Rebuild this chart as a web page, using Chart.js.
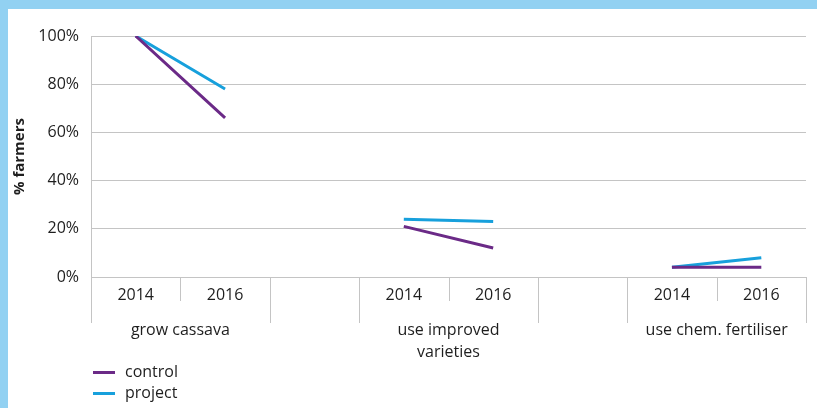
<!DOCTYPE html>
<html lang="en">
<head>
  <meta charset="UTF-8" />
  <title>Farmer practices 2014-2016</title>
  <script src="https://cdn.jsdelivr.net/npm/chart.js"></script>
  <style>
    body {
      margin: 0;
      background: #92d1f2;
      width: 817px;
      height: 408px;
      overflow: hidden;
    }
    #frame {
      position: absolute;
      left: 8px;
      top: 9px;
      width: 809px;
      height: 399px;
      background: #ffffff;
    }
  </style>
</head>
<body>
  <div id="frame">
    <canvas id="practiceChart" width="809" height="399"></canvas>
  </div>

  <script>
    // years per slot; empty slots keep the groups apart
    const years = ['2014', '2016', '', '2014', '2016', '', '2014', '2016'];
    const groups = [['grow cassava'], ['use improved', 'varieties'], ['use chem. fertiliser']];
    const yTicks = [0, 20, 40, 60, 80, 100];

    const control = [100, 66, null, 21, 12, null, 4, 4];
    const project = [100, 78, null, 24, 23, null, 4, 8];

    const purple = '#6b2a87';
    const blue = '#17a0dc';
    const gridColor = '#c4c4c4';
    const textColor = '#1e1e1e';
    const fontFamily = '"Open Sans", sans-serif';

    // separators, group names and legend below the x axis
    const groupPlugin = {
      id: 'groupLabels',
      afterDraw(chart) {
        const { ctx, chartArea, scales: { x } } = chart;
        const bottom = chartArea.bottom;
        const half = (x.getPixelForValue(1) - x.getPixelForValue(0)) / 2;

        ctx.save();
        ctx.strokeStyle = gridColor;
        ctx.lineWidth = 1;
        for (let i = 0; i <= years.length; i++) {
          const px = Math.round(x.getPixelForValue(i) - half) + 0.5;
          const inGroup = i > 0 && i < years.length && years[i - 1] && years[i];
          ctx.beginPath();
          ctx.moveTo(px, bottom);
          ctx.lineTo(px, bottom + (inGroup ? 24 : 46));
          ctx.stroke();
        }

        ctx.fillStyle = textColor;
        ctx.font = '16px ' + fontFamily;
        ctx.textAlign = 'center';
        ctx.textBaseline = 'middle';
        groups.forEach((lines, g) => {
          const cx = (x.getPixelForValue(g * 3) + x.getPixelForValue(g * 3 + 1)) / 2;
          lines.forEach((line, k) => {
            ctx.fillText(line, cx, bottom + 53 + k * 22);
          });
        });

        // legend
        ctx.textAlign = 'left';
        chart.data.datasets.forEach((ds, k) => {
          const y = bottom + 95 + k * 21;
          ctx.strokeStyle = ds.borderColor;
          ctx.lineWidth = 3;
          ctx.beginPath();
          ctx.moveTo(85, y + 0.5);
          ctx.lineTo(107, y + 0.5);
          ctx.stroke();
          ctx.fillText(ds.label, 117, y);
        });
        ctx.restore();
      }
    };

    const ctx = document.getElementById('practiceChart').getContext('2d');
    new Chart(ctx, {
      type: 'line',
      data: {
        labels: years,
        datasets: [
          { label: 'control', data: control, borderColor: purple, backgroundColor: purple },
          { label: 'project', data: project, borderColor: blue, backgroundColor: blue }
        ]
      },
      options: {
        responsive: false,
        animation: false,
        spanGaps: false,
        layout: { padding: { top: 27, right: 11, bottom: 0, left: 0 } },
        elements: {
          line: { borderWidth: 3, tension: 0, borderCapStyle: 'butt' },
          point: { radius: 0, hoverRadius: 0 }
        },
        plugins: {
          legend: { display: false },
          tooltip: { enabled: false }
        },
        scales: {
          x: {
            offset: true,
            grid: { display: false },
            border: { display: false },
            ticks: {
              color: textColor,
              font: { family: fontFamily, size: 16 },
              padding: 1,
              autoSkip: false,
              maxRotation: 0
            },
            afterFit(scale) { scale.height = 131; }
          },
          y: {
            min: 0,
            max: 100,
            afterBuildTicks(scale) { scale.ticks = yTicks.map(v => ({ value: v })); },
            grid: { color: gridColor, lineWidth: 1, drawTicks: false },
            border: { color: gridColor, width: 1 },
            ticks: {
              color: textColor,
              font: { family: fontFamily, size: 16 },
              padding: 12,
              callback: v => v + '%'
            },
            title: {
              display: true,
              text: '% farmers',
              color: textColor,
              font: { family: fontFamily, size: 15, weight: 'bold' },
              padding: { top: 3, bottom: 0 }
            },
            afterFit(scale) { scale.width = 83; }
          }
        }
      },
      plugins: [groupPlugin]
    });
  </script>
</body>
</html>
